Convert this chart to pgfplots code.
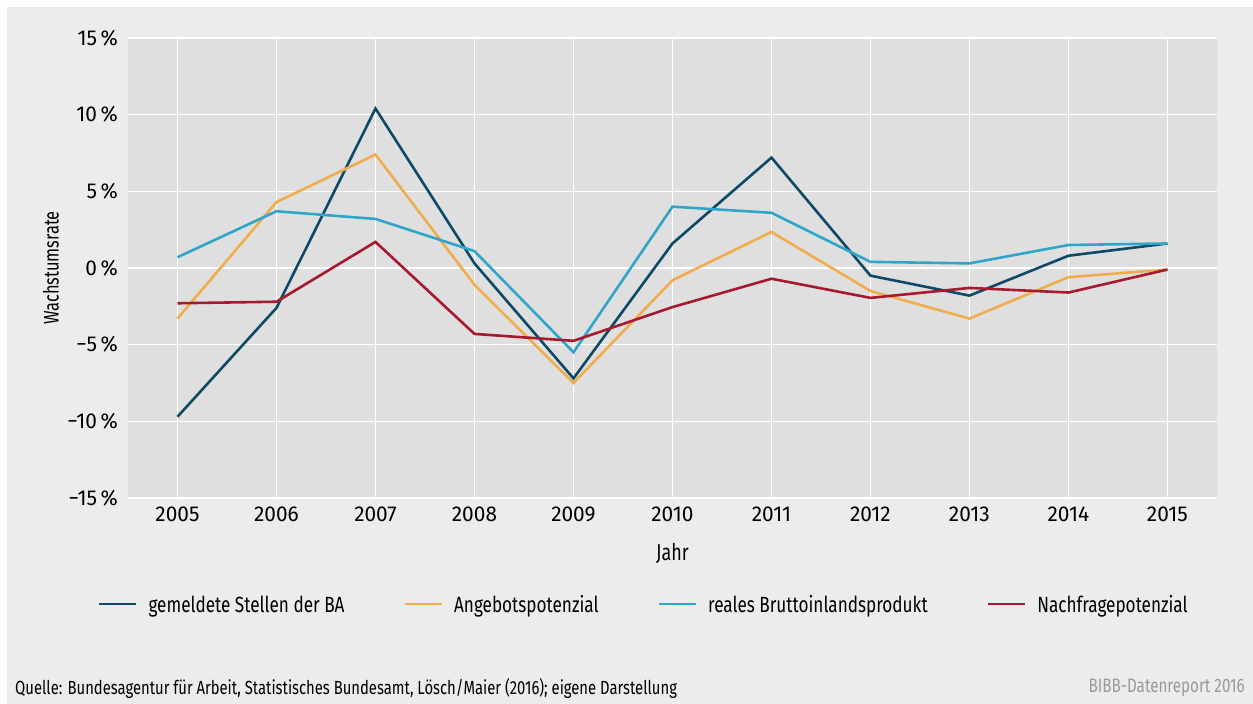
\documentclass[border=0pt]{standalone}
\usepackage{fontspec}
\setmainfont{Fira Sans}[FakeStretch=0.78]
\newfontfamily\tickfont{Fira Sans}[FakeStretch=0.97]
\usepackage{pgfplots}
\pgfplotsset{compat=1.18}
\definecolor{bgout}{HTML}{ECECEC}
\definecolor{bgplot}{HTML}{DFDFDF}
\definecolor{cdark}{HTML}{0E4A67}
\definecolor{corange}{HTML}{F0AD4E}
\definecolor{clight}{HTML}{2FA5C9}
\definecolor{cred}{HTML}{A6192E}
\definecolor{cgraytext}{HTML}{9A9A9A}
\begin{document}
\begin{tikzpicture}[x=1pt,y=1pt]
\useasboundingbox (0,0) rectangle (1253,704);
\fill[white] (0,0) rectangle (1253,704);
\fill[bgout] (7,0) rectangle (1253,697);
\begin{axis}[
  at={(128pt,206pt)}, anchor=south west,
  width=1089pt, height=460pt, scale only axis,
  xmin=2004.5, xmax=2015.5, ymin=-15, ymax=15,
  xtick={2005,...,2015},
  xticklabels={2005,2006,2007,2008,2009,2010,2011,2012,2013,2014,2015},
  ytick={-15,-10,-5,0,5,10,15},
  yticklabels={−15\,\%,−10\,\%,−5\,\%,0\,\%,5\,\%,10\,\%,15\,\%},
  axis background/.style={fill=bgplot},
  axis line style={draw=none},
  tick style={draw=none},
  grid=major,
  major grid style={white, line width=1.6pt},
  tick label style={font=\tickfont\fontsize{21.5}{24}\selectfont, inner sep=0pt},
  xticklabel style={anchor=center, yshift=-16pt},
  yticklabel style={anchor=east, xshift=-10pt},
  legend columns=4,
  legend style={draw=none, fill=none, at={(-0.0276,-0.2304)}, anchor=west,
    inner sep=0pt, outer sep=0pt, font=\fontsize{22}{26}\selectfont,
    /tikz/every even column/.append style={column sep=59pt},
    nodes={inner sep=0pt, outer sep=0pt, text depth=0pt}},
  legend image code/.code={\draw[#1, line width=2.6pt] (0pt,0pt) -- (37pt,0pt);},
  every axis plot/.append style={line width=2.6pt, line join=miter},
  clip=false,
]
\addplot[cdark] coordinates {(2005,-9.7) (2006,-2.6) (2007,10.4) (2008,0.3) (2009,-7.2) (2010,1.6) (2011,7.2) (2012,-0.5) (2013,-1.8) (2014,0.8) (2015,1.6)};
\addlegendentry{\hspace{11pt}gemeldete Stellen der BA}
\addplot[corange] coordinates {(2005,-3.3) (2006,4.3) (2007,7.4) (2008,-1.1) (2009,-7.5) (2010,-0.8) (2011,2.35) (2012,-1.5) (2013,-3.3) (2014,-0.6) (2015,-0.1)};
\addlegendentry{\hspace{11pt}Angebotspotenzial}
\addplot[clight] coordinates {(2005,0.7) (2006,3.7) (2007,3.2) (2008,1.1) (2009,-5.5) (2010,4.0) (2011,3.6) (2012,0.4) (2013,0.3) (2014,1.5) (2015,1.6)};
\addlegendentry{\hspace{11pt}reales Bruttoinlandsprodukt}
\addplot[cred] coordinates {(2005,-2.3) (2006,-2.2) (2007,1.7) (2008,-4.3) (2009,-4.75) (2010,-2.55) (2011,-0.7) (2012,-1.95) (2013,-1.3) (2014,-1.6) (2015,-0.1)};
\addlegendentry{\hspace{11pt}Nachfragepotenzial}
\end{axis}
\node[rotate=90, font=\fontsize{21}{24}\selectfont] at (51,436) {Wachstumsrate};
\node[font=\fontsize{23}{26}\selectfont] at (672.5,151) {Jahr};
\node[anchor=west, inner sep=0pt, font=\fontsize{19}{22}\selectfont] at (15,16) {Quelle: Bundesagentur für Arbeit, Statistisches Bundesamt, Lösch/Maier (2016); eigene Darstellung};
\node[anchor=east, inner sep=0pt, text=cgraytext, font=\fontsize{19.5}{22}\selectfont] at (1245,16) {BIBB-Datenreport 2016};
\end{tikzpicture}
\end{document}
